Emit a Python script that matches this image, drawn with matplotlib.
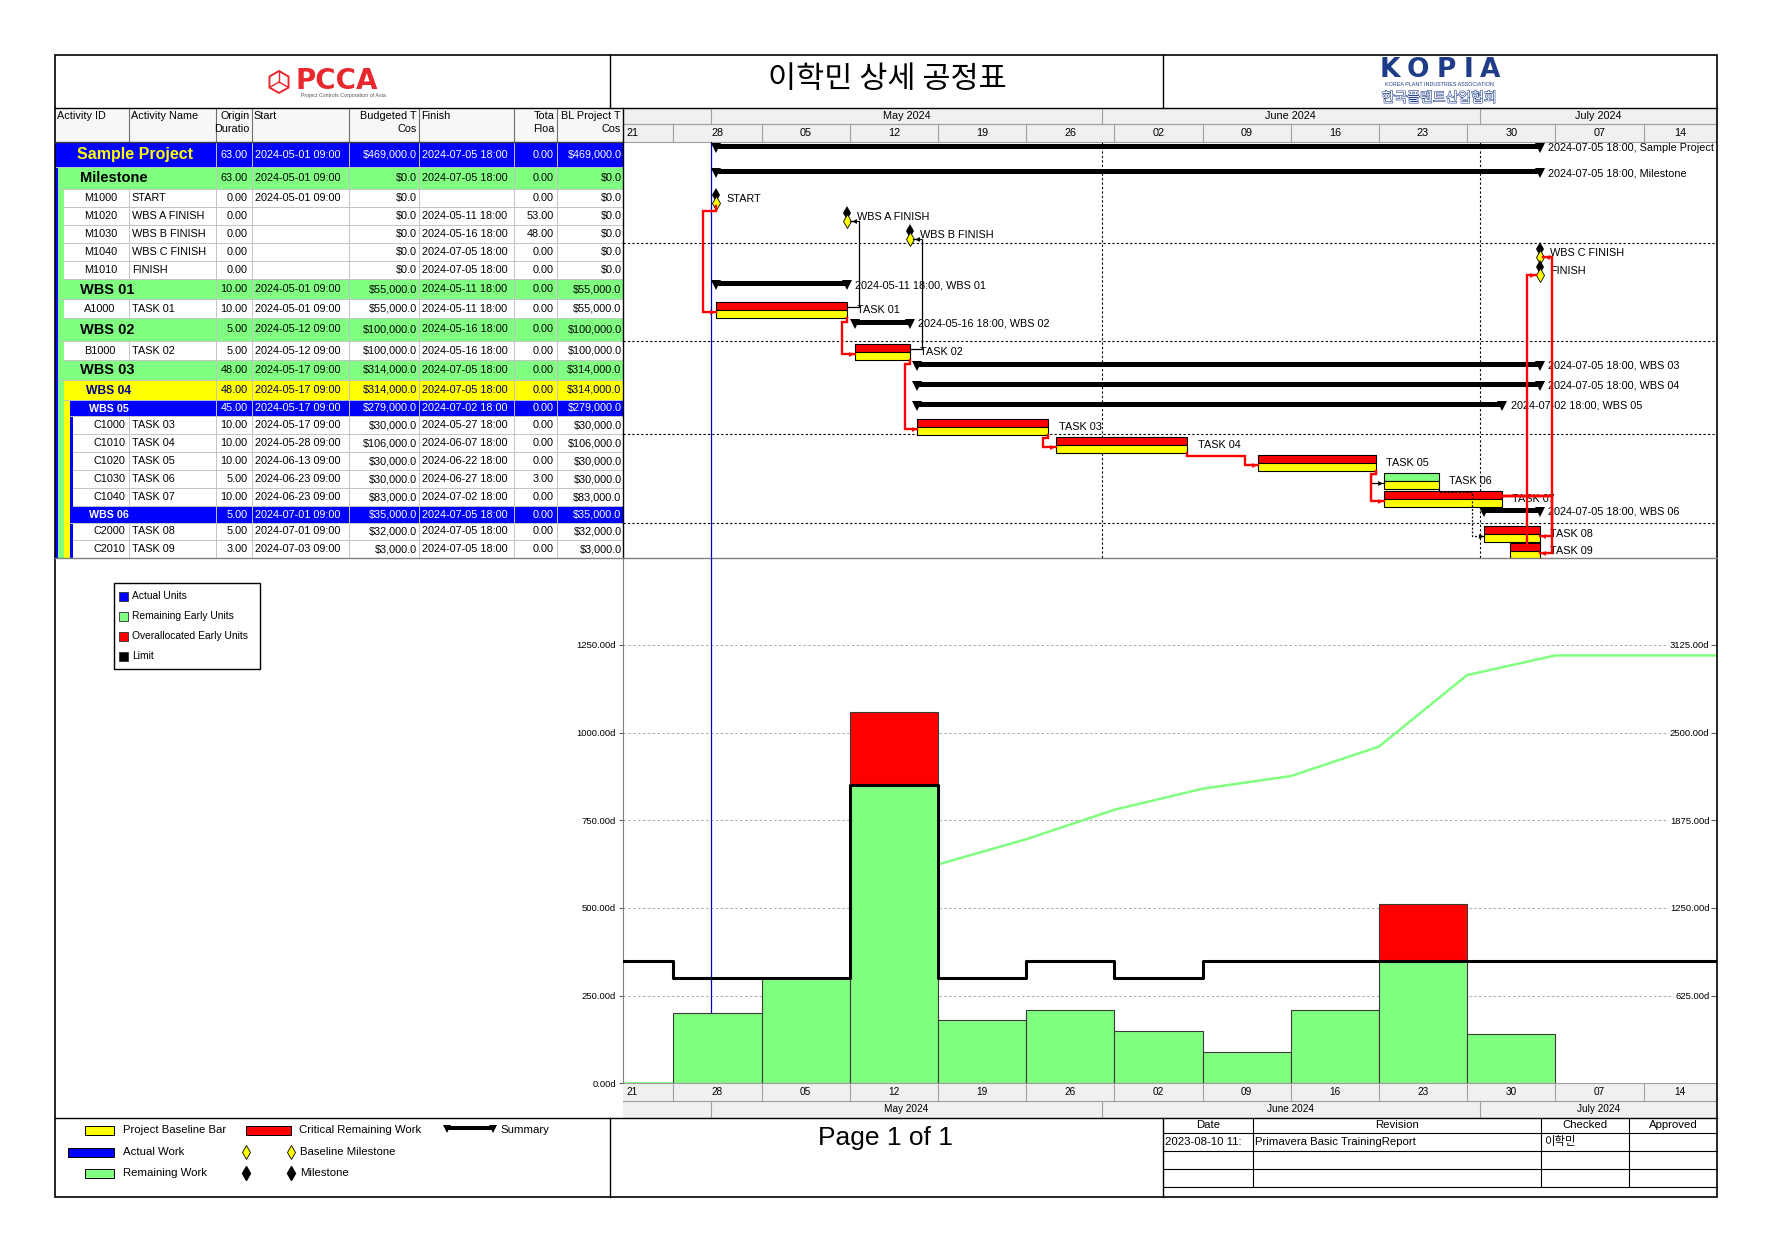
import datetime as dt
import numpy as np
import matplotlib
matplotlib.use('Agg')
import matplotlib.pyplot as plt
import matplotlib.dates as mdates
from matplotlib.patches import Rectangle, RegularPolygon
import matplotlib.patheffects as pe

plt.rcParams['font.family'] = ['Liberation Sans', 'Noto Sans CJK KR', 'DejaVu Sans']

# ---------------- activity table ----------------
act_id = ['', '', 'M1000', 'M1020', 'M1030', 'M1040', 'M1010', '', 'A1000', '', 'B1000', '', '', '',
          'C1000', 'C1010', 'C1020', 'C1030', 'C1040', '', 'C2000', 'C2010']
act_name = ['Sample Project', 'Milestone', 'START', 'WBS A FINISH', 'WBS B FINISH', 'WBS C FINISH', 'FINISH',
            'WBS 01', 'TASK 01', 'WBS 02', 'TASK 02', 'WBS 03', 'WBS 04', 'WBS 05',
            'TASK 03', 'TASK 04', 'TASK 05', 'TASK 06', 'TASK 07', 'WBS 06', 'TASK 08', 'TASK 09']
row_kind = ['proj', 'wbs', 'ms', 'ms', 'ms', 'ms', 'ms', 'wbs', 'task', 'wbs', 'task', 'wbs', 'wbs4', 'wbs5',
            'task5', 'task5', 'task5', 'task5', 'task5', 'wbs5', 'task5', 'task5']
orig_dur = ['63.00', '63.00', '0.00', '0.00', '0.00', '0.00', '0.00', '10.00', '10.00', '5.00', '5.00',
            '48.00', '48.00', '45.00', '10.00', '10.00', '10.00', '5.00', '10.00', '5.00', '5.00', '3.00']
start = ['2024-05-01 09:00', '2024-05-01 09:00', '2024-05-01 09:00', '', '', '', '',
         '2024-05-01 09:00', '2024-05-01 09:00', '2024-05-12 09:00', '2024-05-12 09:00',
         '2024-05-17 09:00', '2024-05-17 09:00', '2024-05-17 09:00', '2024-05-17 09:00',
         '2024-05-28 09:00', '2024-06-13 09:00', '2024-06-23 09:00', '2024-06-23 09:00',
         '2024-07-01 09:00', '2024-07-01 09:00', '2024-07-03 09:00']
finish = ['2024-07-05 18:00', '2024-07-05 18:00', '', '2024-05-11 18:00', '2024-05-16 18:00',
          '2024-07-05 18:00', '2024-07-05 18:00', '2024-05-11 18:00', '2024-05-11 18:00',
          '2024-05-16 18:00', '2024-05-16 18:00', '2024-07-05 18:00', '2024-07-05 18:00',
          '2024-07-02 18:00', '2024-05-27 18:00', '2024-06-07 18:00', '2024-06-22 18:00',
          '2024-06-27 18:00', '2024-07-02 18:00', '2024-07-05 18:00', '2024-07-05 18:00',
          '2024-07-05 18:00']
budget = ['$469,000.00', '$0.00', '$0.00', '$0.00', '$0.00', '$0.00', '$0.00', '$55,000.00', '$55,000.00',
          '$100,000.00', '$100,000.00', '$314,000.00', '$314,000.00', '$279,000.00', '$30,000.00',
          '$106,000.00', '$30,000.00', '$30,000.00', '$83,000.00', '$35,000.00', '$32,000.00', '$3,000.00']
total_float = ['0.00', '0.00', '0.00', '53.00', '48.00', '0.00', '0.00', '0.00', '0.00', '0.00', '0.00',
               '0.00', '0.00', '0.00', '0.00', '0.00', '0.00', '3.00', '0.00', '0.00', '0.00', '0.00']
bl_cost = ['$469,000.00', '$0.00', '$0.00', '$0.00', '$0.00', '$0.00', '$0.00', '$55,000.00', '$55,000.00',
           '$100,000.00', '$100,000.00', '$314,000.00', '$314,000.00', '$279,000.00', '$30,000.00',
           '$106,000.00', '$30,000.00', '$30,000.00', '$83,000.00', '$35,000.00', '$32,000.00', '$3,000.00']

# predecessor, successor, type, style
relations = [
    ('START', 'TASK 01', 'FS', 'crit'),
    ('TASK 01', 'WBS A FINISH', 'FF', 'norm'),
    ('TASK 01', 'TASK 02', 'FS', 'crit'),
    ('TASK 02', 'WBS B FINISH', 'FF', 'norm'),
    ('TASK 02', 'TASK 03', 'FS', 'crit'),
    ('TASK 03', 'TASK 04', 'FS', 'crit'),
    ('TASK 04', 'TASK 05', 'FS', 'crit'),
    ('TASK 05', 'TASK 06', 'FS', 'norm'),
    ('TASK 05', 'TASK 07', 'FS', 'crit'),
    ('TASK 06', 'TASK 08', 'FS', 'dot'),
    ('TASK 07', 'WBS C FINISH', 'FF', 'crit'),
    ('TASK 07', 'TASK 08', 'FF', 'crit'),
    ('TASK 07', 'TASK 09', 'FF', 'crit'),
    ('TASK 09', 'FINISH', 'FS', 'crit'),
]

# ---------------- resource histogram ----------------
week_start = ['2024-04-21', '2024-04-28', '2024-05-05', '2024-05-12', '2024-05-19', '2024-05-26', '2024-06-02',
              '2024-06-09', '2024-06-16', '2024-06-23', '2024-06-30', '2024-07-07', '2024-07-14']
week_label = ['21', '28', '05', '12', '19', '26', '02', '09', '16', '23', '30', '07', '14']
remaining_units = [0, 200, 300, 850, 180, 210, 150, 90, 210, 350, 140, 0, 0]
overalloc_units = [0, 0, 0, 210, 0, 0, 0, 0, 0, 160, 0, 0, 0]
limit_units = [350, 300, 300, 850, 300, 350, 300, 350, 350, 350, 350, 350, 350]
month_start = ['2024-05-01', '2024-06-01', '2024-07-01']
month_label = ['May 2024', 'June 2024', 'July 2024']
data_date = '2024-05-01 00:00'
left_ticks = [0, 250, 500, 750, 1000, 1250]
right_ticks = [625, 1250, 1875, 2500, 3125]


def num(s):
    fmt = '%Y-%m-%d %H:%M' if ':' in s else '%Y-%m-%d'
    return mdates.date2num(dt.datetime.strptime(s, fmt))


# page layout in pixels
W, H = 1770, 1251
L, R, T, B = 55, 1717, 55, 1197
HB, TSB, TR, GB, Z0, FT = 108, 142, 623, 558, 1083.3, 1118
col_x = [55, 128.7, 215.6, 251.7, 348.8, 418.8, 513.6, 556.5, 623]
row_h = [25, 22, 18, 18, 18, 18, 18, 20, 19, 23, 19, 20, 20, 16, 18, 18, 18, 18, 18, 17, 17, 18]
X0, X1 = num('2024-04-24 00:00'), num('2024-07-19 20:00')

fig = plt.figure(figsize=(W / 100, H / 100), dpi=100)
base = fig.add_axes([0, 0, 1, 1])
base.set_xlim(0, W)
base.set_ylim(H, 0)
base.axis('off')


def fax(x0, y0, x1, y1):
    return fig.add_axes([x0 / W, 1 - y1 / H, (x1 - x0) / W, (y1 - y0) / H])


# ---------------- header ----------------
hexc = RegularPolygon((279, 82), 6, radius=11, orientation=0, fill=False, ec='#e8282e', lw=1.4)
base.add_patch(hexc)
for ang in (90, 210, 330):
    base.plot([279, 279 + 11 * np.cos(np.radians(ang))], [82, 82 - 11 * np.sin(np.radians(ang))],
              color='#e8282e', lw=1.0)
base.text(296, 81, 'PCCA', color='#e8282e', fontsize=20, fontweight='bold', family='DejaVu Sans',
          ha='left', va='center')
base.text(343, 96, 'Project Controls Corporation of Asia', fontsize=3.8, ha='center', va='center', color='#555555')
base.text(887, 79, '이학민 상세 공정표', fontsize=22, ha='center', va='center', family='Noto Sans CJK KR')
for k, ch in enumerate('KOPIA'):
    base.text([1390, 1418, 1446, 1468, 1490][k], 77, ch, fontsize=19, fontweight='bold', color='#1f3c88',
              ha='center', va='baseline', family='DejaVu Sans')
base.text(1439, 84, 'KOREA PLANT INDUSTRIES ASSOCIATION', fontsize=3.9, ha='center', va='center', color='#1f3c88')
base.text(1439, 98, '한국플랜트산업협회', fontsize=10, ha='center', va='center', color='white',
          family='Noto Sans CJK KR',
          path_effects=[pe.withStroke(linewidth=0.8, foreground='#1f3c88')])

# ---------------- table ----------------
base.add_patch(Rectangle((L, HB), TR - L, TSB - HB, fc='#f7f7f7', ec='none'))
heads = [('Activity ID', '', 'left'), ('Activity Name', '', 'left'), ('Origin', 'Duratio', 'right'),
         ('Start', '', 'left'), ('Budgeted T', 'Cos', 'right'), ('Finish', '', 'left'),
         ('Tota', 'Floa', 'right'), ('BL Project T', 'Cos', 'right')]
for c, (h1, h2, al) in enumerate(heads):
    xa, xb = col_x[c], col_x[c + 1]
    xt = xa + 2 if al == 'left' else xb - 2
    for s, yy in ((h1, 116), (h2, 129)):
        base.text(xt, yy, s, fontsize=7.8, ha=al, va='center')
    if c > 0:
        base.plot([xa, xa], [HB, TSB], color='#707070', lw=0.8)

strips = {
    'proj': [(55, '#0000ff')],
    'wbs': [(55, '#0000ff'), (58, '#80ff80')],
    'wbs4': [(55, '#0000ff'), (58, '#80ff80'), (64, '#ffff00')],
    'wbs5': [(55, '#0000ff'), (58, '#80ff80'), (64, '#ffff00'), (69.5, '#0000ff')],
    'ms': [(55, '#0000ff'), (58, '#80ff80'), (64, 'white')],
    'task': [(55, '#0000ff'), (58, '#80ff80'), (64, 'white')],
    'task5': [(55, '#0000ff'), (58, '#80ff80'), (64, '#ffff00'), (69.5, '#0000ff'), (73, 'white')],
}
name_style = {
    'proj': dict(color='#ffff00', fontsize=11.5, fontweight='bold'),
    'wbs': dict(color='black', fontsize=10.5, fontweight='bold'),
    'wbs4': dict(color='#000090', fontsize=8.7, fontweight='bold'),
    'wbs5': dict(color='white', fontsize=7.7, fontweight='bold'),
}
name_x = {'proj': 135, 'wbs': 80, 'wbs4': 86, 'wbs5': 89}
data_color = {'proj': 'white', 'wbs': 'black', 'wbs4': '#00005a', 'wbs5': 'white',
              'ms': 'black', 'task': 'black', 'task5': 'black'}

row_top = TSB + np.concatenate([[0], np.cumsum(row_h)[:-1]])
row_bot = row_top + np.array(row_h)
row_mid = (row_top + row_bot) / 2

for i, k in enumerate(row_kind):
    y0, y1, ym = row_top[i], row_bot[i], row_mid[i]
    st = strips[k]
    for n, (xs, col) in enumerate(st):
        xe = st[n + 1][0] if n + 1 < len(st) else TR
        base.add_patch(Rectangle((xs, y0), xe - xs, y1 - y0, fc=col, ec='none'))
    inner = st[-1][0]
    base.plot([inner, TR], [y1, y1], color='#c4c4c4', lw=0.7)
    first = 2 if k in name_style else 1
    for c in range(first, 8):
        base.plot([col_x[c], col_x[c]], [y0, y1], color='#c4c4c4', lw=0.7)
    if k in name_style:
        base.text(name_x[k], ym + 0.5, act_name[i], ha='center' if k == 'proj' else 'left',
                  va='center', **name_style[k])
    else:
        base.text(inner + 20, ym, act_id[i], fontsize=7.8, va='center', ha='left')
        base.text(col_x[1] + 3, ym, act_name[i], fontsize=7.8, va='center', ha='left')
    dc = data_color[k]
    base.text(col_x[3] - 4, ym, orig_dur[i], fontsize=7.8, ha='right', va='center', color=dc)
    base.text(col_x[3] + 3, ym, start[i], fontsize=7.8, ha='left', va='center', color=dc)
    base.text(col_x[5] + 3, ym, finish[i], fontsize=7.8, ha='left', va='center', color=dc)
    base.text(col_x[7] - 3, ym, total_float[i], fontsize=7.8, ha='right', va='center', color=dc)
    # cost columns are too narrow in the layout: the last digit is cut off
    for c, vals in ((4, budget), (7, bl_cost)):
        base.text(col_x[c + 1] - 1.5, ym, vals[i][:-1], fontsize=7.8, ha='right', va='center', color=dc)

# ---------------- gantt ----------------
wk_num = np.array([num(w) for w in week_start])
mo_num = [num(m) for m in month_start]
dd = num(data_date)


def timescale(ax, wk, mo, size):
    for (ya, yb) in (wk, mo):
        ax.add_patch(Rectangle((X0, ya), X1 - X0, yb - ya, fc='#f0f0f0', ec='none', zorder=0))
        ax.plot([X0, X1], [ya, ya], color='#a0a0a0', lw=0.8)
        ax.plot([X0, X1], [yb, yb], color='#a0a0a0', lw=0.8)
    for i, w in enumerate(wk_num):
        if X0 < w < X1:
            ax.plot([w, w], wk, color='#a0a0a0', lw=0.8)
        lo, hi = max(w, X0), min(w + 7, X1)
        if i == 0:
            ax.text(lo + 0.3, sum(wk) / 2, week_label[i], ha='left', va='center', fontsize=size)
        else:
            ax.text((lo + hi) / 2, sum(wk) / 2, week_label[i], ha='center', va='center', fontsize=size)
    for i, m in enumerate(mo_num):
        ax.plot([m, m], mo, color='#a0a0a0', lw=0.8)
        hi = mo_num[i + 1] if i + 1 < len(mo_num) else X1
        ax.text((m + min(hi, X1)) / 2, sum(mo) / 2, month_label[i], ha='center', va='center', fontsize=size)


gx = fax(TR, HB, R, GB)
gx.set_xlim(X0, X1)
gx.set_ylim(GB, HB)
gx.axis('off')
timescale(gx, (124, TSB), (HB, 124), 7.8)

for m in mo_num[1:]:
    gx.plot([m, m], [TSB, GB], color='k', lw=0.8, ls=(0, (2, 2)), zorder=1)
for r in (4, 9, 14, 19):
    gx.plot([X0, X1], [row_bot[r], row_bot[r]], color='k', lw=0.8, ls=(0, (2, 2)), zorder=1)
gx.plot([dd, dd], [TSB, GB], color='#0000c8', lw=0.9, zorder=2)


def geo(i):
    top = row_top[i]
    if row_kind[i] == 'ms':
        t = num(start[i] or finish[i])
        return dict(s=t, e=t, top=top + 2, mid=top + 13.5, out=top + 9, bot=top + 17, ms=True)
    return dict(s=num(start[i]), e=num(finish[i]), top=top + 2.7, mid=top + 12.7, out=top + 8,
                bot=top + 18.7, ms=False)


for i, k in enumerate(row_kind):
    top = row_top[i]
    if k in name_style:
        s, e = num(start[i]), num(finish[i])
        gx.broken_barh([(s, e - s)], (top + 2, 5), facecolors='k', zorder=3)
        gx.plot([s, e], [top + 6, top + 6], 'v', color='k', ms=6.5, mew=0, zorder=3)
        gx.text(e + 0.7, top + 6, finish[i] + ', ' + act_name[i], fontsize=7.8, va='center',
                ha='left', clip_on=True, zorder=4)
    elif k == 'ms':
        t = num(start[i] or finish[i])
        gx.plot(t, top + 6, 'd', color='k', ms=7.5, mew=0, zorder=4)
        gx.plot(t, top + 13.5, 'd', mfc='#ffff00', mec='k', mew=0.6, ms=7.5, zorder=4)
        gx.text(t + 0.8, top + 10, act_name[i], fontsize=7.8, va='center', ha='left', zorder=4)
    else:
        s, e = num(start[i]), num(finish[i])
        fc = '#ff0000' if float(total_float[i]) == 0 else '#80ff80'
        gx.broken_barh([(s, e - s)], (top + 2.7, 8), facecolors=fc, edgecolors='k', lw=0.8, zorder=3)
        gx.broken_barh([(s, e - s)], (top + 10.7, 8), facecolors='#ffff00', edgecolors='k', lw=0.8, zorder=3)
        gx.text(e + 0.85, top + 10.7, act_name[i], fontsize=7.8, va='center', ha='left', zorder=4)

idx = {n: i for i, n in enumerate(act_name)}
rel_style = {'crit': dict(color='#ff0000', lw=1.7, zorder=6),
             'norm': dict(color='black', lw=0.9, zorder=5),
             'dot': dict(color='black', lw=0.9, ls=(0, (1.5, 1.5)), zorder=5)}
for p, s, typ, sty in sorted(relations, key=lambda r: r[3] == 'crit'):
    i, j = idx[p], idx[s]
    a, b = geo(i), geo(j)
    if typ == 'FS':
        xv = b['s'] - 1.0
        if j > i:
            y1 = max(a['bot'], row_bot[i]) + 3.5
            xs = [a['e'], a['e'], xv, xv, b['s']]
            ys = [a['bot'], y1, y1, b['mid'], b['mid']]
        else:
            xs = [xv, xv, b['s'] - 0.3]
            ys = [a['top'], b['mid'], b['mid']]
        mk, mx = '>', xs[-1] - 0.3
    else:
        xv = max(a['e'], b['e']) + 1.0
        xe = b['e'] + (0.3 if b['ms'] else 0.0)
        xs = [a['e'], xv, xv, xe]
        ys = [a['out'], a['out'], b['mid'], b['mid']]
        mk, mx = '<', xe + 0.3
    gx.plot(xs, ys, solid_joinstyle='miter', **rel_style[sty])
    gx.plot(mx, ys[-1], mk, color=rel_style[sty]['color'], ms=3.5, mew=0, zorder=7)

# ---------------- histogram ----------------
hx = fax(TR, GB, R, Z0)
hx2 = hx.twinx()
ytop = (Z0 - GB) / 0.3507
hx.set_xlim(X0, X1)
hx.set_ylim(0, ytop)
hx2.set_ylim(0, ytop * 2.5)
hx.set_zorder(hx2.get_zorder() + 1)
hx.patch.set_visible(False)

rem = np.array(remaining_units)
over = np.array(overalloc_units)
cum = np.cumsum(rem + over)
hx2.plot(np.concatenate([[wk_num[0]], wk_num + 7]), np.concatenate([[0], cum]), color='#80ff80', lw=1.8)
hx2.set_yticks(right_ticks)
hx2.set_yticklabels([f'{v:.2f}d' for v in right_ticks])
hx2.yaxis.grid(True, color='#a8a8a8', lw=0.7, ls=(0, (2.5, 2.5)))
hx2.tick_params(axis='y', direction='in', length=4, pad=-5.5, labelsize=6.8, color='#606060')
for lab in hx2.get_yticklabels():
    lab.set_horizontalalignment('right')
    lab.set_bbox(dict(fc='white', ec='none', pad=0.5))
for sp in hx2.spines.values():
    sp.set_visible(False)

hx.axvline(dd, color='#0000c8', lw=0.9, zorder=1)
m = rem > 0
hx.bar(wk_num[m], rem[m], width=7, align='edge', color='#80ff80', edgecolor='#3a3a3a', lw=0.8, zorder=3)
m = over > 0
hx.bar(wk_num[m], over[m], bottom=rem[m], width=7, align='edge', color='#ff0000', edgecolor='#3a3a3a',
       lw=0.8, zorder=3)
hx.step(np.concatenate([wk_num, [wk_num[-1] + 7]]), limit_units + [limit_units[-1]], where='post',
        color='k', lw=2.2, zorder=4)
hx.set_yticks(left_ticks)
hx.set_yticklabels([f'{v:.2f}d' for v in left_ticks])
hx.tick_params(axis='y', length=3, labelsize=6.8, pad=2, color='#606060')
hx.set_xticks([])
for name, sp in hx.spines.items():
    sp.set_visible(name == 'left')
hx.spines['left'].set_color('#808080')

bx = fax(TR, Z0, R, FT)
bx.set_xlim(X0, X1)
bx.set_ylim(FT, Z0)
bx.axis('off')
timescale(bx, (Z0, 1101), (1101, FT), 7.2)

# histogram legend
base.add_patch(Rectangle((114, 583), 146, 86, fill=False, ec='k', lw=1))
hist_leg = [('Actual Units', '#0000ff'), ('Remaining Early Units', '#80ff80'),
            ('Overallocated Early Units', '#ff0000'), ('Limit', 'black')]
for n, (lab, col) in enumerate(hist_leg):
    y = 596 + n * 20
    base.add_patch(Rectangle((119, y - 4.5), 9, 9, fc=col, ec='#303030', lw=0.6))
    base.text(132.5, y, lab, fontsize=7.4, va='center', ha='left')


# ---------------- footer ----------------
def bar_icon(x0, x1, y, col):
    base.add_patch(Rectangle((x0, y - 4.5), x1 - x0, 9, fc=col, ec='k', lw=0.7))


bar_icon(85, 114, 1130, '#ffff00')
bar_icon(246, 291, 1130, '#ff0000')
bar_icon(68, 114, 1152, '#0000ff')
bar_icon(85, 114, 1173, '#80ff80')
base.add_patch(Rectangle((446, 1126), 48, 4, fc='k', ec='none'))
base.plot([447, 493], [1129, 1129], 'v', color='k', ms=6, mew=0)
base.text(123, 1130, 'Project Baseline Bar', fontsize=8.2, va='center')
base.text(299, 1130, 'Critical Remaining Work', fontsize=8.2, va='center')
base.text(500, 1130, 'Summary', fontsize=8.2, va='center')
base.text(123, 1152, 'Actual Work', fontsize=8.2, va='center')
base.text(123, 1173, 'Remaining Work', fontsize=8.2, va='center')
base.plot([246, 291], [1152, 1152], 'd', mfc='#ffff00', mec='k', mew=0.6, ms=7, ls='none')
base.plot([246, 291], [1173, 1173], 'd', color='k', ms=7, ls='none')
base.text(300, 1152, 'Baseline Milestone', fontsize=8.2, va='center')
base.text(300, 1173, 'Milestone', fontsize=8.2, va='center')

base.text(885, 1138, 'Page 1 of 1', fontsize=19, ha='center', va='center')

tb_x = [1163, 1253, 1541, 1629, 1717]
for x in tb_x[1:4]:
    base.plot([x, x], [FT, 1187], color='k', lw=0.8)
for y in (1133, 1151, 1169, 1187):
    base.plot([1163, R], [y, y], color='k', lw=0.8)
for n, lab in enumerate(['Date', 'Revision', 'Checked', 'Approved']):
    base.text((tb_x[n] + tb_x[n + 1]) / 2, 1125.5, lab, fontsize=8.2, ha='center', va='center')
base.text(1165, 1142, '2023-08-10 11:', fontsize=8.2, va='center')
base.text(1255, 1142, 'Primavera Basic TrainingReport', fontsize=8.2, va='center')
base.text(1544, 1142, '이학민', fontsize=8.2, va='center', family=['Noto Sans CJK KR'])

# ---------------- frame ----------------
ov = fig.add_axes([0, 0, 1, 1])
ov.set_xlim(0, W)
ov.set_ylim(H, 0)
ov.axis('off')
ov.add_patch(Rectangle((L, T), R - L, B - T, fill=False, ec='k', lw=1.2))
ov.plot([L, R], [HB, HB], color='k', lw=1)
ov.plot([610, 610], [T, HB], color='k', lw=1)
ov.plot([1163, 1163], [T, HB], color='k', lw=1)
ov.plot([L, TR], [TSB, TSB], color='#404040', lw=1)
ov.plot([TR, TR], [HB, GB], color='k', lw=1)
ov.plot([L, R], [GB, GB], color='#808080', lw=1)
ov.plot([L, R], [FT, FT], color='k', lw=1)
ov.plot([610, 610], [FT, B], color='k', lw=1)
ov.plot([1163, 1163], [FT, B], color='k', lw=1)

fig.savefig('out.png', dpi=100)
